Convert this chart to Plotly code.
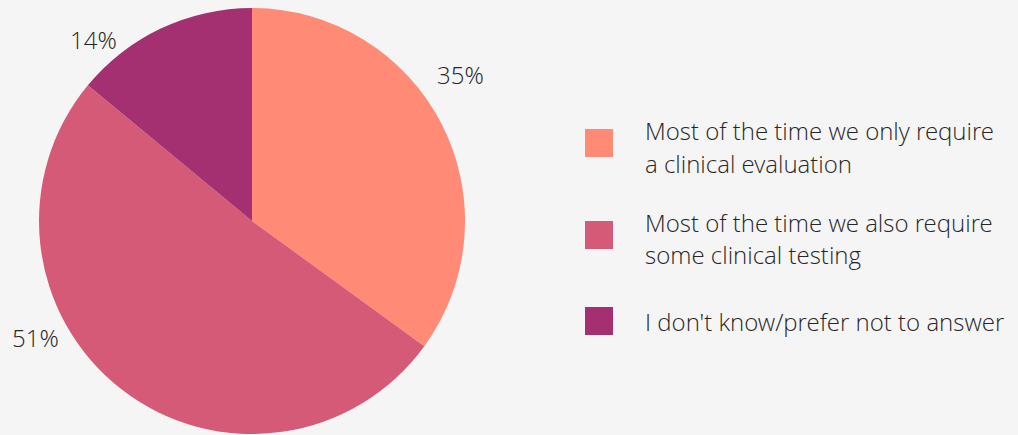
import math
import plotly.graph_objects as go

# Survey answers and shares (%)
answers = [
    "Most of the time we only require a clinical evaluation",
    "Most of the time we also require some clinical testing",
    "I don't know/prefer not to answer",
]
legend_lines = [
    ["Most of the time we only require", "a clinical evaluation"],
    ["Most of the time we also require", "some clinical testing"],
    ["I don't know/prefer not to answer"],
]
shares = [35, 51, 14]
colors = ["#FF8A75", "#D55A77", "#A43072"]

W, H = 1018, 435
BG = "#F5F5F5"
FONT = "Open Sans Light, Open Sans"
TEXT_COLOR = "#262626"

# Pie geometry in pixels
cx, cy, radius = 252, 221, 213

fig = go.Figure(
    go.Pie(
        labels=answers,
        values=shares,
        sort=False,
        direction="clockwise",
        rotation=0,
        marker=dict(colors=colors, line=dict(width=0)),
        textinfo="none",
        hoverinfo="label+percent",
        showlegend=False,
        domain=dict(
            x=[(cx - radius) / W, (cx + radius) / W],
            y=[1 - (cy + radius) / H, 1 - (cy - radius) / H],
        ),
    )
)

# Percentage labels placed outside the slices, nudged around the rim
label_shift_deg = [-8, 24, -16]
label_dist = [255, 246, 241]
annotations = []
total = sum(shares)
start = 0.0
for v, shift, dist in zip(shares, label_shift_deg, label_dist):
    mid = start + v / total * 360 / 2
    start += v / total * 360
    ang = math.radians(mid + shift)
    lx = cx + dist * math.sin(ang)
    ly = cy - dist * math.cos(ang)
    annotations.append(
        dict(
            x=lx / W, y=1 - ly / H, xref="paper", yref="paper",
            xanchor="center", yanchor="middle", showarrow=False,
            text=f"{v}%",
            font=dict(family=FONT, size=24, color=TEXT_COLOR, weight=300),
        )
    )

# Custom legend: square swatch plus wrapped label lines
shapes = []
swatch_x0, swatch_size = 585, 28
text_x = 643
swatch_centers = [143, 235, 321]
first_line_y = [130, 222, 321]
line_gap = 33
for lines, color, yc, y0 in zip(legend_lines, colors, swatch_centers, first_line_y):
    shapes.append(
        dict(
            type="rect", xref="paper", yref="paper",
            x0=swatch_x0 / W, x1=(swatch_x0 + swatch_size) / W,
            y0=1 - (yc + swatch_size / 2) / H, y1=1 - (yc - swatch_size / 2) / H,
            fillcolor=color, line=dict(width=0),
        )
    )
    for i, line in enumerate(lines):
        annotations.append(
            dict(
                x=text_x / W, y=1 - (y0 + i * line_gap) / H,
                xref="paper", yref="paper", xanchor="left", yanchor="middle",
                text=line, showarrow=False,
                font=dict(family=FONT, size=24, color=TEXT_COLOR, weight=300),
            )
        )

fig.update_layout(
    width=W, height=H,
    margin=dict(l=0, r=0, t=0, b=0),
    paper_bgcolor=BG, plot_bgcolor=BG,
    shapes=shapes, annotations=annotations,
)

fig.write_html("out.html", include_plotlyjs=True, full_html=True,
               config={"displayModeBar": False})
